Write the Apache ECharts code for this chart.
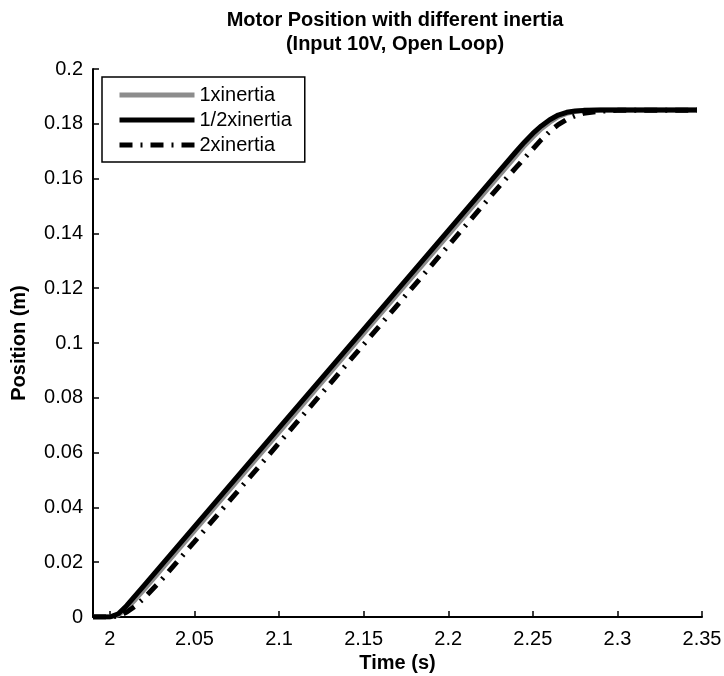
<!DOCTYPE html>
<html>
<head>
<meta charset="utf-8">
<script src="https://cdn.jsdelivr.net/npm/echarts@6/dist/echarts.min.js"></script>
<style>
  html, body { margin: 0; padding: 0; background: #fff; }
  #main { width: 724px; height: 676px; }
</style>
</head>
<body>
<div id="main"></div>
<script>
// time samples (s)
var time = [1.99, 2.0, 2.005, 2.01, 2.015, 2.02, 2.03, 2.05, 2.1, 2.15, 2.2, 2.23, 2.24, 2.245, 2.25, 2.255, 2.26, 2.265, 2.27, 2.275, 2.28, 2.29, 2.3, 2.347];

// position (m)
var pos1x    = [0, 0, 0.0008, 0.0032, 0.0064, 0.0099, 0.0171, 0.0315, 0.0675, 0.1035, 0.1395, 0.1611, 0.1683, 0.1720, 0.1752, 0.1782, 0.1806, 0.1826, 0.1838, 0.1845, 0.1848, 0.1850, 0.1850, 0.1850];
var posHalf  = [0, 0, 0.0012, 0.0042, 0.0078, 0.0114, 0.0186, 0.0330, 0.0690, 0.1050, 0.1410, 0.1626, 0.1698, 0.1733, 0.1765, 0.1792, 0.1815, 0.1832, 0.1842, 0.1847, 0.1849, 0.1850, 0.1850, 0.1850];
var pos2x    = [0, 0, 0.0004, 0.0018, 0.0040, 0.0068, 0.0132, 0.0275, 0.0635, 0.0995, 0.1355, 0.1571, 0.1640, 0.1674, 0.1708, 0.1742, 0.1772, 0.1797, 0.1816, 0.1829, 0.1838, 0.1846, 0.1849, 0.1850];

var names = ['1xinertia', '1/2xinertia', '2xinertia'];
var xTicks = [2, 2.05, 2.1, 2.15, 2.2, 2.25, 2.3, 2.35];

function pairs(ys) {
    return time.map(function (t, i) { return [t, ys[i]]; });
}

var font = 'Liberation Sans, Arial, sans-serif';

var myChart = echarts.init(document.getElementById('main'));

var option = {
    animation: false,
    title: {
        text: 'Motor Position with different inertia\n(Input 10V, Open Loop)',
        left: 390,
        textAlign: 'center',
        top: 3,
        textStyle: {
            fontFamily: font,
            fontSize: 20,
            fontWeight: 'bold',
            color: '#000',
            lineHeight: 24
        }
    },
    legend: {
        data: names,
        orient: 'vertical',
        left: 102,
        top: 77,
        padding: [8, 13, 7, 15],
        itemWidth: 75,
        itemHeight: 14,
        itemGap: 5,
        borderColor: '#000',
        borderWidth: 1.5,
        backgroundColor: '#fff',
        itemStyle: { opacity: 0 },
        lineStyle: { width: 'inherit' },
        textStyle: { fontFamily: font, fontSize: 20, color: '#000' }
    },
    grid: {
        left: 93,
        right: 22,
        top: 69,
        bottom: 59,
        outerBoundsMode: 'none'
    },
    xAxis: {
        type: 'value',
        min: 1.99,
        max: 2.35,
        name: 'Time (s)',
        nameLocation: 'middle',
        nameGap: 34,
        nameTextStyle: { fontFamily: font, fontSize: 20, fontWeight: 'bold', color: '#000' },
        splitLine: { show: false },
        axisLine: { lineStyle: { color: '#000', width: 2 } },
        axisTick: { inside: true, length: 6, customValues: xTicks, lineStyle: { color: '#000', width: 1.5 } },
        axisLabel: {
            customValues: xTicks,
            margin: 12,
            fontFamily: font,
            fontSize: 20,
            color: '#000',
            formatter: function (v) { return String(+v.toFixed(2)); }
        }
    },
    yAxis: {
        type: 'value',
        min: 0,
        max: 0.2,
        interval: 0.02,
        name: 'Position (m)',
        nameLocation: 'middle',
        nameGap: 64,
        nameTextStyle: { fontFamily: font, fontSize: 20, fontWeight: 'bold', color: '#000' },
        splitLine: { show: false },
        axisLine: { show: true, lineStyle: { color: '#000', width: 2 } },
        axisTick: { show: true, inside: true, length: 6, lineStyle: { color: '#000', width: 1.5 } },
        axisLabel: {
            margin: 10,
            fontFamily: font,
            fontSize: 20,
            color: '#000',
            formatter: function (v) { return String(+v.toFixed(2)); }
        }
    },
    series: [
        {
            name: names[0],
            type: 'line',
            data: pairs(pos1x),
            showSymbol: false,
            symbol: 'none',
            z: 2,
            itemStyle: { color: '#8c8c8c' },
            lineStyle: { color: '#8c8c8c', width: 5 }
        },
        {
            name: names[1],
            type: 'line',
            data: pairs(posHalf),
            showSymbol: false,
            symbol: 'none',
            z: 3,
            itemStyle: { color: '#000' },
            lineStyle: { color: '#000', width: 5 }
        },
        {
            name: names[2],
            type: 'line',
            data: pairs(pos2x),
            showSymbol: false,
            symbol: 'none',
            z: 4,
            itemStyle: { color: '#000' },
            lineStyle: { color: '#000', width: 5, type: [13, 8, 2, 8] }
        }
    ]
};

myChart.setOption(option);
</script>
</body>
</html>
